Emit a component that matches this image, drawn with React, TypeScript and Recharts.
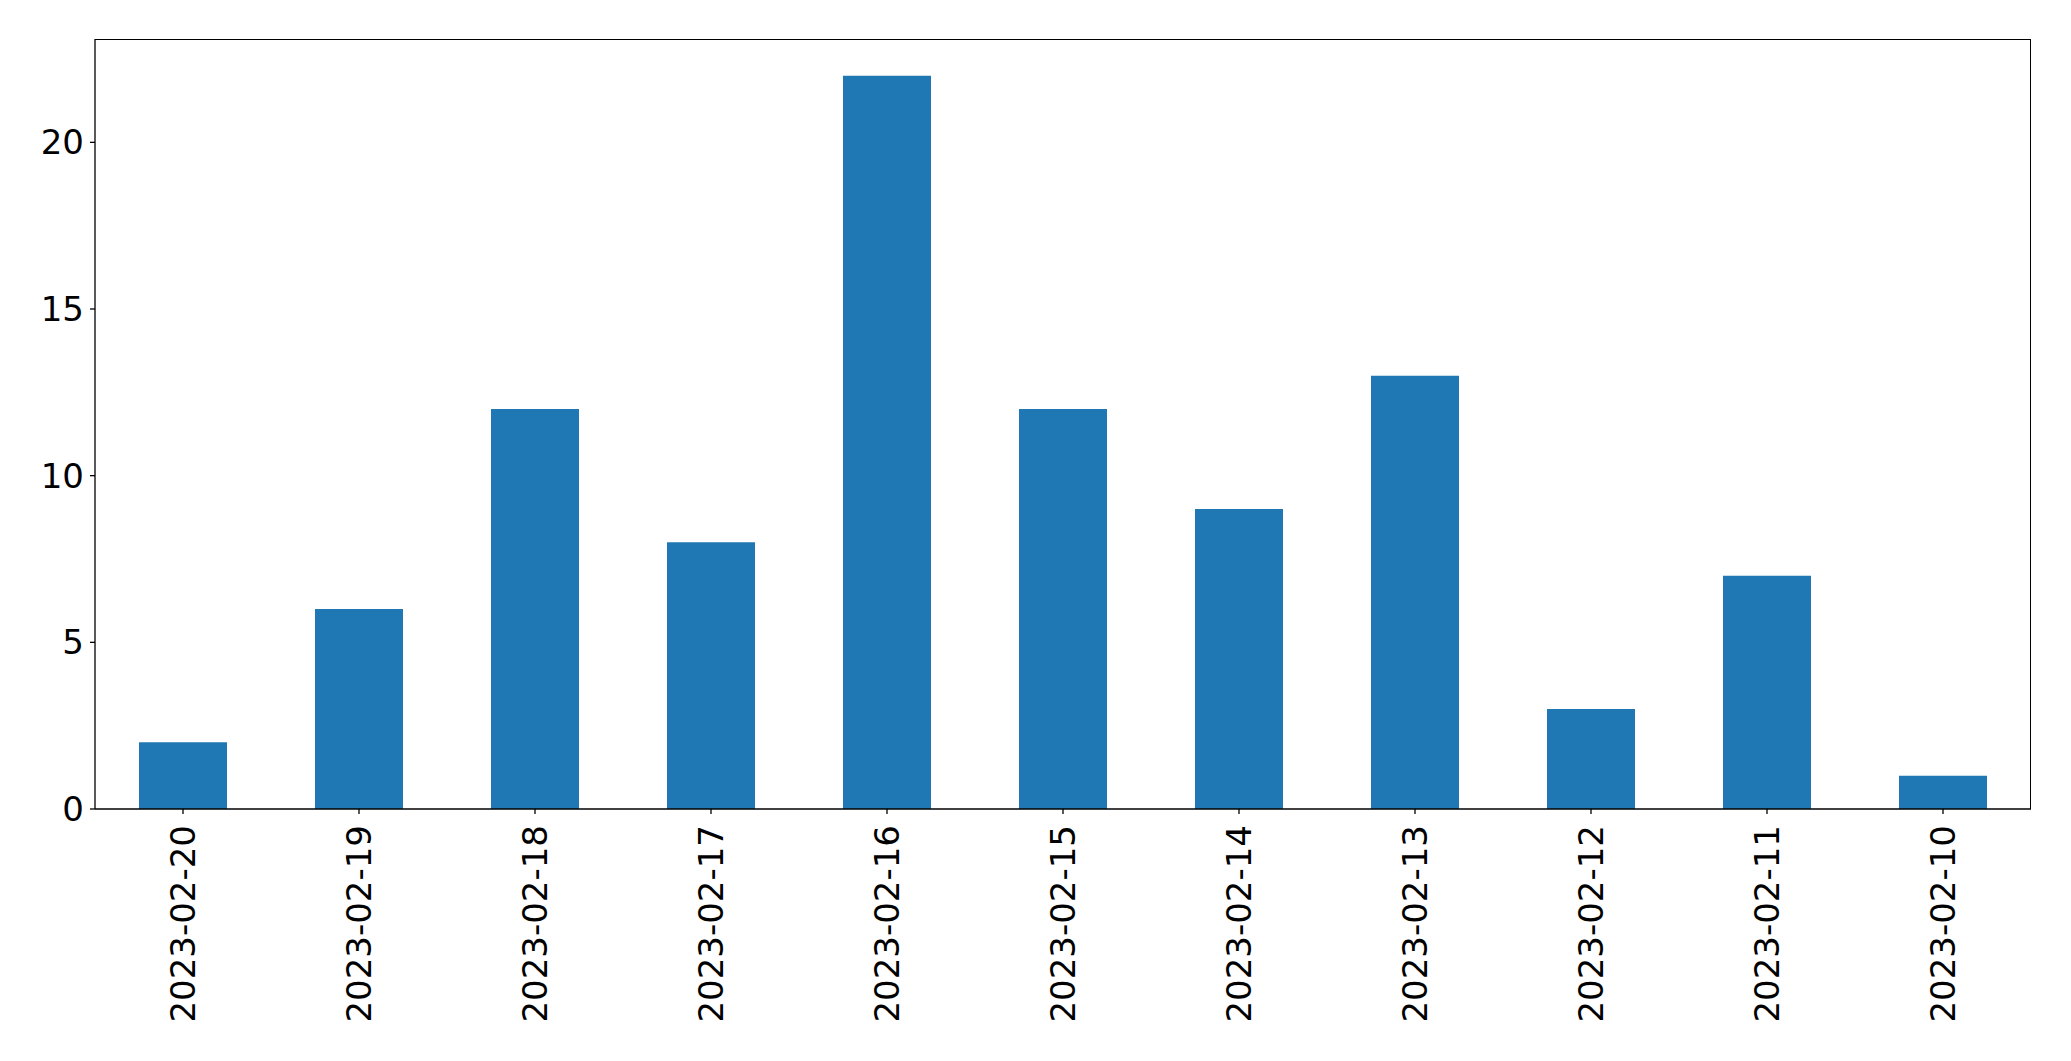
import { BarChart, Bar, XAxis, YAxis } from "recharts";

// dates in the order they appear on the x axis
const dates = [
  "2023-02-20",
  "2023-02-19",
  "2023-02-18",
  "2023-02-17",
  "2023-02-16",
  "2023-02-15",
  "2023-02-14",
  "2023-02-13",
  "2023-02-12",
  "2023-02-11",
  "2023-02-10",
];
const counts = [2, 6, 12, 8, 22, 12, 9, 13, 3, 7, 1];
const yTicks = [0, 5, 10, 15, 20];

const data = dates.map((d, i) => ({ date: d, count: counts[i] }));

const FONT = "'DejaVu Sans', sans-serif";

function DateTick(props: any) {
  const { x, y, payload } = props;
  return (
    <g transform={`translate(${x},${y}) rotate(-90)`}>
      <text x={0} y={0} dy={12} textAnchor="end" fill="#000" fontSize={34} fontFamily={FONT}>
        {payload.value}
      </text>
    </g>
  );
}

export default function App() {
  return (
    <div style={{ position: "absolute", left: 0, top: 0, background: "#fff" }}>
      <BarChart
        width={2071}
        height={1061}
        data={data}
        barCategoryGap="25%"
        margin={{ top: 39, right: 40, left: 0, bottom: 0 }}
      >
        <XAxis
          dataKey="date"
          height={252}
          interval={0}
          tick={<DateTick />}
          tickSize={5}
          tickMargin={11}
          axisLine={{ stroke: "#000", strokeWidth: 1.3 }}
          tickLine={{ stroke: "#000", strokeWidth: 1.3 }}
        />
        <YAxis
          width={95}
          domain={[0, 23.1]}
          ticks={yTicks}
          allowDataOverflow
          tickSize={5}
          tickMargin={6}
          tick={{ fill: "#000", fontSize: 34, fontFamily: FONT }}
          axisLine={{ stroke: "#000", strokeWidth: 1.3 }}
          tickLine={{ stroke: "#000", strokeWidth: 1.3 }}
        />
        <Bar dataKey="count" fill="#1f77b4" isAnimationActive={false} />
      </BarChart>
      {/* frame round the plot area, top and right sides */}
      <div
        style={{
          position: "absolute",
          left: 95,
          top: 39,
          width: 1936,
          height: 770,
          borderTop: "1.3px solid #000",
          borderRight: "1.3px solid #000",
          boxSizing: "border-box",
          pointerEvents: "none",
        }}
      />
    </div>
  );
}
